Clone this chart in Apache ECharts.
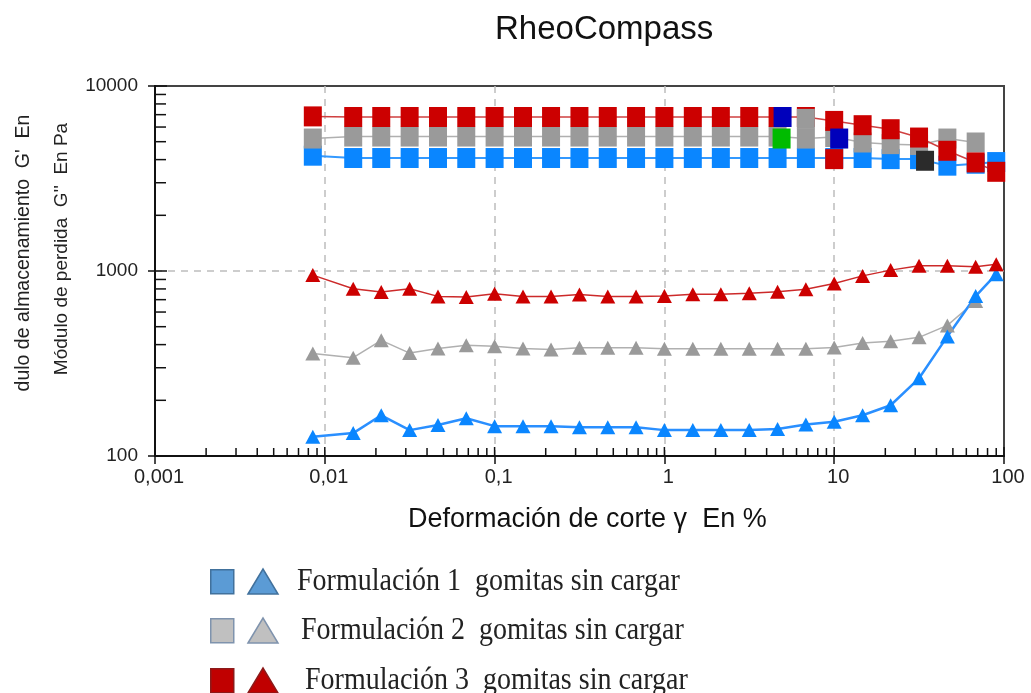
<!DOCTYPE html>
<html>
<head>
<meta charset="utf-8">
<script src="https://cdn.jsdelivr.net/npm/echarts@6/dist/echarts.min.js"></script>
<style>
  html, body { margin: 0; padding: 0; background: #fff; }
  #chart { width: 1031px; height: 693px; }
</style>
</head>
<body>
<div id="chart"></div>
<script>
// strain values (%), 6 points per decade
const strain = [0.0085, 0.0147, 0.0215, 0.0316, 0.0464, 0.0681, 0.1, 0.147, 0.215, 0.316, 0.464, 0.681,
  1, 1.47, 2.15, 3.16, 4.64, 6.81, 10, 14.7, 21.5, 31.6, 46.4, 68.1, 90];

// storage modulus G' (squares)
const gStore1 = [4200, 4080, 4080, 4080, 4080, 4080, 4080, 4080, 4080, 4080, 4080, 4080,
  4080, 4080, 4080, 4080, 4080, 4080, 4080, 4080, 4025, 4025, 3710, 3800, 3880];
const gStore2 = [5200, 5330, 5330, 5330, 5330, 5330, 5330, 5330, 5330, 5330, 5330, 5330,
  5330, 5330, 5330, 5330, 5330, 5200, 5300, 4950, 4850, 4800, 5200, 4950];
const gStore3 = [6850, 6800, 6800, 6800, 6800, 6800, 6800, 6800, 6800, 6800, 6800, 6800,
  6800, 6800, 6800, 6800, 6800, 6800, 6475, 6140, 5840, 5265, 4465, 3862, 3437];

// loss modulus G'' (triangles)
const gLoss1 = [127, 133, 166, 138, 147, 160, 145, 145, 145, 143, 143, 143,
  138, 138, 138, 138, 140, 148, 153, 166, 188, 263, 443, 732, 961];
const gLoss2 = [358, 340, 422, 360, 381, 397, 392, 381, 376, 385, 385, 385,
  380, 380, 380, 380, 380, 380, 386, 408, 417, 438, 508, 688];
const gLoss3 = [950, 802, 769, 802, 729, 724, 754, 729, 729, 747, 729, 729,
  732, 748, 748, 757, 773, 797, 855, 941, 1011, 1067, 1067, 1054, 1089];

// odd highlighted points drawn by the software
const markDarkBlue = [[4.64, 6800], [10, 5200]];
const markGreen = [[4.64, 5200]];
const markBlack = [[31.6, 3943]];
const markRed = [[10, 4025]];
const markGray = [[6.81, 6640]];

const xTicks = [0.001, 0.01, 0.1, 1, 10, 100];
const yTicks = [100, 1000, 10000];
const minorSteps = [2, 3, 4, 5, 6, 7, 8, 9];

const legendRows = [
  { text: 'Formulación 1  gomitas sin cargar', fill: '#5b9bd5', stroke: '#41719c' },
  { text: 'Formulación 2  gomitas sin cargar', fill: '#c0c0c0', stroke: '#7f93ad' },
  { text: 'Formulación 3  gomitas sin cargar', fill: '#c00000', stroke: '#8c1a1a' }
];

const pair = (ys) => ys.map((y, i) => [strain[i], y]);

const xMinor = [];
xTicks.slice(0, -1).forEach(d => minorSteps.forEach(m => xMinor.push(+(d * m).toPrecision(3))));
const yMinor = [];
yTicks.slice(0, -1).forEach(d => minorSteps.forEach(m => yMinor.push(d * m)));

const chart = echarts.init(document.getElementById('chart'));

function lineSeries(name, data, color, lineColor, width, symbol, size) {
  return {
    name: name,
    type: 'line',
    data: data,
    symbol: symbol,
    symbolSize: size,
    itemStyle: { color: color, opacity: 1 },
    lineStyle: { color: lineColor, width: width },
    emphasis: { disabled: true },
    animation: false
  };
}

function markSeries(data, color, offset) {
  return {
    type: 'scatter',
    data: data,
    symbol: 'rect',
    symbolSize: [18, 20],
    symbolOffset: offset,
    itemStyle: { color: color, opacity: 1 },
    emphasis: { disabled: true },
    z: 5,
    animation: false
  };
}

function tickSeries(data, axis) {
  return {
    type: 'custom',
    data: data,
    clip: false,
    silent: true,
    z: 6,
    animation: false,
    renderItem: function (params, api) {
      let p, shape;
      if (axis === 'x') {
        p = api.coord([api.value(0), 100]);
        shape = { x1: p[0], y1: p[1], x2: p[0], y2: p[1] - api.value(1) };
      } else {
        p = api.coord([0.001, api.value(0)]);
        shape = { x1: p[0], y1: p[1], x2: p[0] + api.value(1), y2: p[1] };
      }
      return { type: 'line', shape: shape, style: { stroke: '#111', lineWidth: 1.5 } };
    }
  };
}

const legendGraphics = [];
legendRows.forEach((row, i) => {
  const top = 569 + i * 50 - (i === 0 ? 0 : 1);
  const tx = 297 + i * 4;
  legendGraphics.push({
    type: 'rect', left: 210, top: top, shape: { width: 23, height: 24 },
    style: { fill: row.fill, stroke: row.stroke, lineWidth: 1.5 }
  });
  legendGraphics.push({
    type: 'polygon',
    shape: { points: [[248, top + 25], [263, top], [278, top + 25]] },
    style: { fill: row.fill, stroke: row.stroke, lineWidth: 1.5 }
  });
  legendGraphics.push({
    type: 'text', x: tx, y: top + 13, scaleY: 1.1,
    style: {
      text: row.text, fontFamily: 'Liberation Serif', fontSize: 28, fill: '#222',
      verticalAlign: 'middle'
    }
  });
});

const option = {
  backgroundColor: '#fff',
  grid: {
    left: 155, right: 27, top: 86, bottom: 237,
    show: true, borderColor: '#444', borderWidth: 2
  },
  xAxis: {
    type: 'log',
    logBase: 10,
    min: 0.001,
    max: 100,
    axisLine: { lineStyle: { color: '#111', width: 2 } },
    axisTick: { show: true, length: 8, lineStyle: { color: '#111', width: 1.5 } },
    axisLabel: {
      margin: 11, color: '#222', fontSize: 20, fontFamily: 'Liberation Sans',
      padding: [0, 0, 0, 8],
      formatter: v => String(+(+v).toPrecision(3)).replace('.', ',')
    },
    splitLine: {
      show: true, showMinLine: false, showMaxLine: false,
      lineStyle: { color: '#bdbdbd', type: [7, 6], width: 1.5 }
    },
    minorTick: { show: false }
  },
  yAxis: {
    type: 'log',
    logBase: 10,
    min: 100,
    max: 10000,
    axisLine: { lineStyle: { color: '#111', width: 2 } },
    axisTick: { show: true, length: 7, lineStyle: { color: '#111', width: 1.5 } },
    axisLabel: {
      margin: 17, color: '#222', fontSize: 19, fontFamily: 'Liberation Sans',
      formatter: v => String(Math.round(v))
    },
    splitLine: {
      show: true, showMinLine: false, showMaxLine: false,
      lineStyle: { color: '#bdbdbd', type: [7, 6], width: 1.5 }
    },
    minorTick: { show: false }
  },
  graphic: [
    {
      type: 'text', left: 495, top: 13,
      style: { text: 'RheoCompass', fontFamily: 'Liberation Sans', fontSize: 33, fill: '#111' }
    },
    {
      type: 'text', left: 408, top: 506,
      style: { text: 'Deformación de corte γ  En %', fontFamily: 'Liberation Sans', fontSize: 27, fill: '#111' }
    },
    {
      type: 'text', x: 24, y: 253, rotation: Math.PI / 2,
      style: {
        text: "dulo de almacenamiento  G'  En", fontFamily: 'Liberation Sans', fontSize: 19.5,
        fill: '#222', align: 'center', verticalAlign: 'middle'
      }
    },
    {
      type: 'text', x: 62, y: 249, rotation: Math.PI / 2,
      style: {
        text: "Módulo de perdida  G''  En Pa", fontFamily: 'Liberation Sans', fontSize: 19,
        fill: '#222', align: 'center', verticalAlign: 'middle'
      }
    }
  ].concat(legendGraphics),
  series: [
    lineSeries('F1 G\'', pair(gStore1), '#0a86ff', '#3399ff', 2, 'rect', [18, 20]),
    lineSeries('F2 G\'', pair(gStore2), '#9a9a9a', '#b0b0b0', 1.5, 'rect', [18, 20]),
    lineSeries('F3 G\'', pair(gStore3), '#cc0000', '#d04040', 1.5, 'rect', [18, 20]),
    lineSeries('F2 G\'\'', pair(gLoss2), '#9a9a9a', '#b0b0b0', 1.5, 'triangle', [15, 14]),
    lineSeries('F1 G\'\'', pair(gLoss1), '#0a86ff', '#2a8fff', 2.5, 'triangle', [15, 14]),
    lineSeries('F3 G\'\'', pair(gLoss3), '#cc0000', '#cc2a2a', 1.5, 'triangle', [15, 14]),
    markSeries(markGray, '#9a9a9a', [0, 0]),
    markSeries(markRed, '#cc0000', [0, 0]),
    markSeries(markDarkBlue, '#0000bb', [5, 0]),
    markSeries(markGreen, '#00bb00', [4, 0]),
    markSeries(markBlack, '#2b2b2b', [6, 0]),
    tickSeries(xMinor.map(v => [v, 8]), 'x'),
    tickSeries(xTicks.map(v => [v, 9]), 'x'),
    tickSeries(yMinor.map(v => [v, 11]), 'y'),
    tickSeries(yTicks.map(v => [v, 12]), 'y')
  ]
};

chart.setOption(option);
</script>
</body>
</html>
